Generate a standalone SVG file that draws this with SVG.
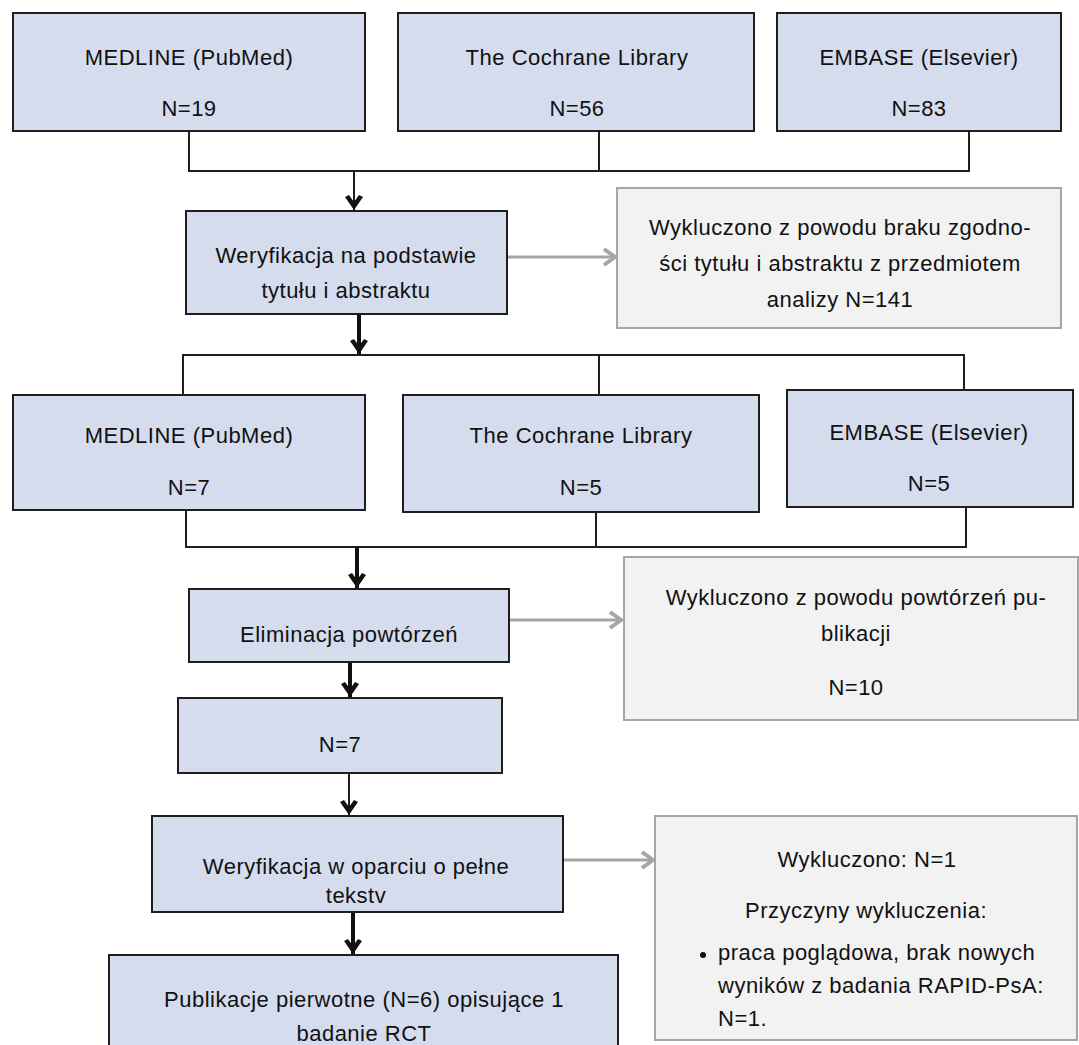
<svg xmlns="http://www.w3.org/2000/svg" width="1079" height="1045" viewBox="0 0 1079 1045">
<style>
.b{fill:#d4dcee;stroke:#1e1e1e;stroke-width:2}
.g{fill:#f2f2f2;stroke:#a6a6a6;stroke-width:2}
text{font-family:"Liberation Sans",Arial,sans-serif;font-size:22px;fill:#111;letter-spacing:0.5px}
.c{text-anchor:middle}
.ln{fill:none;stroke:#1e1e1e;stroke-width:2}
.lt{fill:none;stroke:#111;stroke-width:4}
.gl{fill:none;stroke:#a6a6a6;stroke-width:3}
</style>
<defs>
<marker id="ah" viewBox="-16 -11 18 22" markerWidth="18" markerHeight="22" refX="0" refY="0" orient="auto" markerUnits="userSpaceOnUse">
<path d="M0,0 L-13,-9 L-15,-5 L-8,0 L-15,5 L-13,9 Z" fill="#111"/>
</marker>
<marker id="gh" viewBox="-16 -11 18 22" markerWidth="18" markerHeight="22" refX="0" refY="0" orient="auto" markerUnits="userSpaceOnUse">
<path d="M-12,-8 L-1,0 L-12,8" fill="none" stroke="#a6a6a6" stroke-width="4"/>
</marker>
</defs>
<rect width="1079" height="1045" fill="#fff"/>
<g id="connectors">
<polyline class="ln" points="189,131 189,171 969,171 969,131"/>
<line class="ln" x1="599" y1="131" x2="599" y2="171"/>
<line class="ln" x1="354" y1="171" x2="354" y2="210" marker-end="url(#ah)"/>
<line class="gl" x1="508" y1="257" x2="616" y2="257" marker-end="url(#gh)"/>
<line class="lt" x1="359" y1="315" x2="359" y2="354" marker-end="url(#ah)"/>
<polyline class="ln" points="183,395 183,355 964,355 964,390"/>
<line class="ln" x1="599" y1="355" x2="599" y2="395"/>
<polyline class="ln" points="186,510 186,547 966,547 966,507"/>
<line class="ln" x1="596" y1="512" x2="596" y2="547"/>
<line class="lt" x1="357" y1="547" x2="357" y2="588" marker-end="url(#ah)"/>
<line class="gl" x1="510" y1="620" x2="622" y2="620" marker-end="url(#gh)"/>
<line class="lt" x1="350" y1="662" x2="350" y2="697" marker-end="url(#ah)"/>
<line class="ln" x1="349" y1="773" x2="349" y2="815" marker-end="url(#ah)"/>
<line class="gl" x1="564" y1="860" x2="654" y2="860" marker-end="url(#gh)"/>
<line class="lt" x1="353" y1="912" x2="353" y2="954" marker-end="url(#ah)"/>
</g>
<g id="medline1"><rect class="b" x="13" y="13" width="352" height="118"/>
<text class="c" x="189" y="65">MEDLINE (PubMed)</text><text class="c" x="189" y="116">N=19</text></g>
<g id="cochrane1"><rect class="b" x="398" y="13" width="356" height="118"/>
<text class="c" x="577" y="65">The Cochrane Library</text><text class="c" x="577" y="116">N=56</text></g>
<g id="embase1"><rect class="b" x="777" y="13" width="284" height="118"/>
<text class="c" x="919" y="65">EMBASE (Elsevier)</text><text class="c" x="919" y="116">N=83</text></g>
<g id="weryfikacja1"><rect class="b" x="186" y="211" width="321" height="103"/>
<text class="c" x="346" y="263">Weryfikacja na podstawie</text><text class="c" x="346" y="298">tytułu i abstraktu</text></g>
<g id="excl1"><rect class="g" x="617" y="188" width="444" height="140"/>
<text class="c" x="840" y="235">Wykluczono z powodu braku zgodno-</text>
<text class="c" x="840" y="271">ści tytułu i abstraktu z przedmiotem</text>
<text class="c" x="840" y="307">analizy N=141</text></g>
<g id="medline2"><rect class="b" x="13" y="395" width="352" height="115"/>
<text class="c" x="189" y="443">MEDLINE (PubMed)</text><text class="c" x="189" y="495">N=7</text></g>
<g id="cochrane2"><rect class="b" x="403" y="395" width="356" height="117"/>
<text class="c" x="581" y="443">The Cochrane Library</text><text class="c" x="581" y="495">N=5</text></g>
<g id="embase2"><rect class="b" x="787" y="390" width="286" height="117"/>
<text class="c" x="929" y="440">EMBASE (Elsevier)</text><text class="c" x="929" y="491">N=5</text></g>
<g id="eliminacja"><rect class="b" x="189" y="589" width="320" height="73"/>
<text class="c" x="349" y="642">Eliminacja powtórzeń</text></g>
<g id="excl2"><rect class="g" x="624" y="557" width="454" height="163"/>
<text class="c" x="856" y="605">Wykluczono z powodu powtórzeń pu-</text>
<text class="c" x="856" y="641">blikacji</text>
<text class="c" x="856" y="695">N=10</text></g>
<g id="n7"><rect class="b" x="178" y="698" width="324" height="75"/>
<text class="c" x="340" y="752">N=7</text></g>
<g id="weryfikacja2"><rect class="b" x="152" y="816" width="411" height="96"/>
<text class="c" x="356" y="874">Weryfikacja w oparciu o pełne</text><text class="c" x="356" y="903">tekstv</text></g>
<g id="excl3"><rect class="g" x="655" y="816" width="422" height="224"/>
<text class="c" x="867" y="867">Wykluczono: N=1</text>
<text class="c" x="866" y="918">Przyczyny wykluczenia:</text>
<circle cx="703" cy="955" r="3" fill="#111"/>
<text x="718" y="960">praca poglądowa, brak nowych</text>
<text x="718" y="993">wyników z badania RAPID-PsA:</text>
<text x="718" y="1026">N=1.</text></g>
<g id="publikacje"><rect class="b" x="109" y="955" width="509" height="100"/>
<text class="c" x="364" y="1007">Publikacje pierwotne (N=6) opisujące 1</text><text class="c" x="364" y="1041">badanie RCT</text></g>
</svg>
